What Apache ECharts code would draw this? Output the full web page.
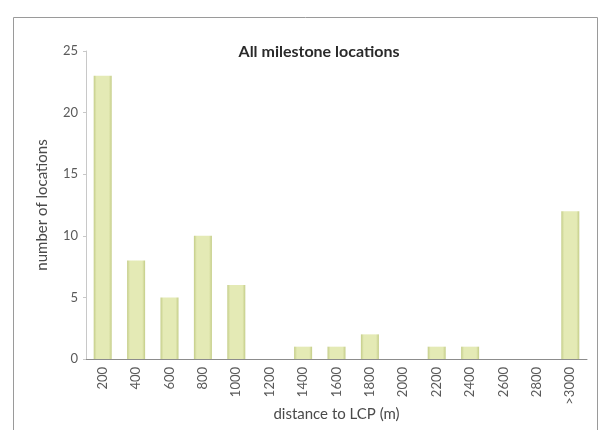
<!DOCTYPE html>
<html>
<head>
<meta charset="utf-8">
<script src="https://cdn.jsdelivr.net/npm/echarts@6/dist/echarts.min.js"></script>
<style>
  html, body { margin: 0; padding: 0; background: #fff; }
  #milestone-chart { width: 601px; height: 430px; }
</style>
</head>
<body>
<div id="milestone-chart"></div>
<script>
// distance bins (m) and counts
const distanceBins = ["200", "400", "600", "800", "1000", "1200", "1400", "1600", "1800", "2000", "2200", "2400", "2600", "2800", ">3000"];
const locationCounts = [23, 8, 5, 10, 6, 0, 1, 1, 2, 0, 1, 1, 0, 0, 12];
const yTicks = [0, 5, 10, 15, 20, 25];

const chartDom = document.getElementById("milestone-chart");
const myChart = echarts.init(chartDom);

const fontFamily = "Lato, 'Open Sans', sans-serif";

myChart.setOption({
  animation: false,
  textStyle: { fontFamily: fontFamily },
  title: {
    text: "All milestone locations",
    left: 314,
    top: 39,
    textAlign: "center",
    textStyle: { fontSize: 16, fontWeight: "bold", color: "#2a2a2a", fontFamily: fontFamily },
  },
  // outer frame of the original figure
  graphic: [
    {
      type: "rect",
      shape: { x: 13.5, y: 17.5, width: 584, height: 430 },
      style: { fill: "none", stroke: "#9a9a9a", lineWidth: 1 },
      silent: true,
    },
  ],
  grid: {
    left: 86,
    right: 14,
    top: 51,
    bottom: 71,
    outerBoundsMode: "none",
  },
  xAxis: {
    type: "category",
    data: distanceBins,
    name: "distance to LCP (m)",
    nameLocation: "middle",
    nameGap: 48,
    nameMoveOverlap: false,
    nameTextStyle: { fontSize: 15, color: "#4a4a4a" },
    axisLine: { lineStyle: { color: "#8c8c8c", width: 1 } },
    axisTick: { show: false },
    axisLabel: { rotate: 90, fontSize: 13, color: "#5a5a5a", margin: 8 },
    splitLine: { show: false },
  },
  yAxis: {
    type: "value",
    min: yTicks[0],
    max: yTicks[yTicks.length - 1],
    interval: 5,
    name: "number of locations",
    nameLocation: "middle",
    nameGap: 36,
    nameRotate: 90,
    nameTextStyle: { fontSize: 15, color: "#4a4a4a" },
    axisLine: { show: true, lineStyle: { color: "#c8c8c8" } },
    axisTick: { show: true, length: 3, lineStyle: { color: "#c8c8c8" } },
    axisLabel: { fontSize: 13, color: "#5a5a5a", margin: 8 },
    splitLine: { show: false },
  },
  series: [
    {
      name: "locations",
      type: "bar",
      data: locationCounts,
      barWidth: 18,
      itemStyle: {
        color: {
          type: "linear",
          x: 0, y: 0, x2: 1, y2: 0,
          colorStops: [
            { offset: 0, color: "#c4cd88" },
            { offset: 0.16, color: "#e4eab5" },
            { offset: 0.84, color: "#e4eab5" },
            { offset: 1, color: "#c4cd88" },
          ],
        },
        borderWidth: 0,
      },
    },
  ],
});
</script>
</body>
</html>
